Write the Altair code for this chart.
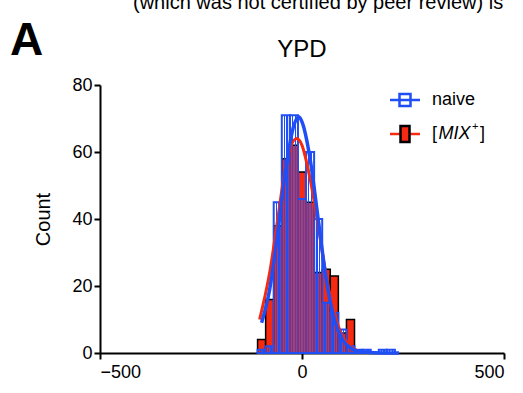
import altair as alt
import pandas as pd

# ---------------- data ----------------
bin_width = 20
mix_centers = [-100, -80, -60, -40, -20, 0, 20, 40, 60, 80, 100, 120]
mix_counts = [4, 16, 38, 58, 62, 54, 45, 24, 25, 23, 6, 10]

naive_centers = [-100, -80, -60, -40, -20, 0, 20, 40, 60, 80, 100, 120, 140, 160, 180, 200, 220]
naive_counts = [1, 2, 45, 71, 71, 46, 60, 40, 15, 12, 7, 2, 1, 1, 0, 1, 1]

naive_fit_x = [-100, -80, -60, -40, -20, -8, 0, 20, 40, 60, 80, 100, 120, 140, 160, 200, 240]
naive_fit_y = [9, 19, 36, 55, 68, 70.5, 69, 58, 40, 22, 10, 4, 1.5, 0.5, 0.2, 0, 0]

mix_fit_x = [-105, -80, -60, -40, -13, 0, 20, 40, 60, 80, 100, 120, 140]
mix_fit_y = [10, 24, 40, 56, 64, 62, 52, 38, 23, 12, 5, 2, 0.5]

x_ticks = [-500, 0, 500]
y_ticks = [0, 20, 40, 60, 80]
title_text = "YPD"
panel_letter = "A"
header_text = "(which was not certified by peer review) is"
legend_naive = "naive"

BLUE = "#1f4ef5"
RED = "#f52a10"
FONT = "Liberation Sans"

mix_df = pd.DataFrame({"c": mix_centers, "n": mix_counts})
mix_df["x0"] = mix_df["c"] - bin_width / 2
mix_df["x1"] = mix_df["c"] + bin_width / 2
naive_df = pd.DataFrame({"c": naive_centers, "n": naive_counts})
naive_df["x0"] = naive_df["c"] - bin_width / 2
naive_df["x1"] = naive_df["c"] + bin_width / 2
nfit = pd.DataFrame({"x": naive_fit_x, "y": naive_fit_y})
mfit = pd.DataFrame({"x": mix_fit_x, "y": mix_fit_y})

xscale = alt.Scale(domain=[-500, 500], nice=False, zero=False)
yscale = alt.Scale(domain=[0, 80], nice=False)

xaxis = alt.Axis(values=x_ticks, title=None, format="d", labelPadding=4)
yaxis = alt.Axis(values=y_ticks, title="Count", titleFontSize=20, titleFontWeight="normal",
                 titlePadding=18, format="d")

CLEAR = "rgba(31,78,245,0)"
stripes = alt.LinearGradient(
    gradient="linear", x1=0, y1=0, x2=1, y2=0,
    stops=[
        alt.GradientStop(color=CLEAR, offset=0.0),
        alt.GradientStop(color=CLEAR, offset=0.26),
        alt.GradientStop(color=BLUE, offset=0.26),
        alt.GradientStop(color=BLUE, offset=0.42),
        alt.GradientStop(color=CLEAR, offset=0.42),
        alt.GradientStop(color=CLEAR, offset=0.58),
        alt.GradientStop(color=BLUE, offset=0.58),
        alt.GradientStop(color=BLUE, offset=0.74),
        alt.GradientStop(color=CLEAR, offset=0.74),
        alt.GradientStop(color=CLEAR, offset=1.0),
    ],
)

red_bars = alt.Chart(mix_df).mark_bar(color=RED, stroke="black", strokeWidth=1.5).encode(
    x=alt.X("x0:Q", scale=xscale, axis=xaxis),
    x2="x1:Q",
    y=alt.Y("n:Q", scale=yscale, axis=yaxis),
    y2=alt.datum(0),
)

blue_bars = alt.Chart(naive_df).mark_bar(fill=stripes, stroke=BLUE, strokeWidth=2).encode(
    x=alt.X("x0:Q", scale=xscale),
    x2="x1:Q",
    y=alt.Y("n:Q", scale=yscale),
    y2=alt.datum(0),
)

red_fit = alt.Chart(mfit).mark_line(color=RED, strokeWidth=3, interpolate="monotone").encode(
    x=alt.X("x:Q", scale=xscale), y=alt.Y("y:Q", scale=yscale)
)
blue_fit = alt.Chart(nfit).mark_line(color=BLUE, strokeWidth=3.5, interpolate="monotone").encode(
    x=alt.X("x:Q", scale=xscale), y=alt.Y("y:Q", scale=yscale)
)

one = pd.DataFrame({"k": [0]})

def txt(s, x, y, size, **kw):
    d = pd.DataFrame({"t": [s]})
    return alt.Chart(d).mark_text(font=FONT, fontSize=size, color="black", **kw).encode(
        text="t:N", x=alt.value(x), y=alt.value(y))

title = txt(title_text, 202, -28, 24, align="center", baseline="alphabetic")
letter = txt(panel_letter, -90, -30, 46, align="left", baseline="alphabetic", fontWeight="bold")
header = txt(header_text, 33, -76, 20, align="left", baseline="alphabetic")

# legend
leg1_y = 15
leg2_y = 49
l1_line = alt.Chart(one).mark_rule(color=BLUE, strokeWidth=2.5).encode(
    x=alt.value(290), x2=alt.value(320), y=alt.value(leg1_y))
l1_box = alt.Chart(one).mark_rect(fill="white", stroke=BLUE, strokeWidth=2.5).encode(
    x=alt.value(299.5), x2=alt.value(310.5), y=alt.value(leg1_y - 6), y2=alt.value(leg1_y + 6))
l1_mid = alt.Chart(one).mark_rule(color=BLUE, strokeWidth=2.5).encode(
    x=alt.value(299.5), x2=alt.value(310.5), y=alt.value(leg1_y))
l2_line = alt.Chart(one).mark_rule(color=RED, strokeWidth=2.5).encode(
    x=alt.value(290), x2=alt.value(320), y=alt.value(leg2_y))
l2_box = alt.Chart(one).mark_rect(fill=RED, stroke="black", strokeWidth=2.5).encode(
    x=alt.value(300.5), x2=alt.value(309.5), y=alt.value(leg2_y - 8), y2=alt.value(leg2_y + 8))
t1 = txt(legend_naive, 332, leg1_y, 18, align="left", baseline="middle")
t2a = txt("[", 332, leg2_y, 18, align="left", baseline="middle")
t2b = txt("MIX", 338.5, leg2_y, 18, align="left", baseline="middle", fontStyle="italic")
t2c = txt("+", 372, leg2_y - 7, 11, align="left", baseline="middle")
t2d = txt("]", 380, leg2_y, 18, align="left", baseline="middle")

chart = alt.layer(
    red_bars, blue_bars, red_fit, blue_fit,
    title, letter, header,
    l2_line, l2_box, l1_line, l1_box, l1_mid, t1, t2a, t2b, t2c, t2d,
).properties(
    width=404, height=268,
    padding={"left": 100, "top": 85, "right": 19, "bottom": 40},
    autosize=alt.AutoSizeParams(type="none"),
    background="white",
).configure_view(stroke=None).configure_axis(
    grid=False, domainColor="black", domainWidth=2, tickColor="black", tickWidth=2,
    tickSize=6, labelFont=FONT, labelFontSize=18, labelColor="black", titleFont=FONT,
    titleColor="black", labelPadding=2,
)

chart.save("out.html", embed_options={"renderer": "svg", "actions": False})
